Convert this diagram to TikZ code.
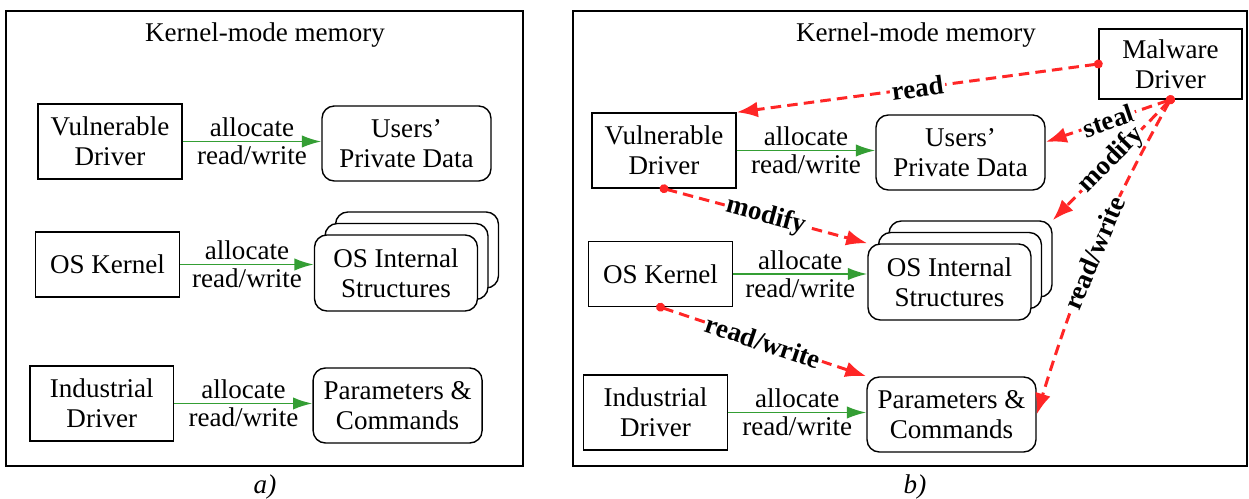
\documentclass[tikz,border=0pt]{standalone}
\usepackage{fontspec}
\setmainfont{Liberation Serif}
\usetikzlibrary{arrows.meta}

\definecolor{allocgreen}{RGB}{52,158,52}
\definecolor{attackred}{RGB}{255,38,38}

\begin{document}
\begin{tikzpicture}[x=0.02cm,y=-0.02cm,
                    font=\fontsize{15.4}{17}\selectfont,
                    driver/.style={draw,line width=0.8pt,align=center,inner sep=0pt,minimum width=2.88cm,minimum height=1.5cm},
                    memory/.style={draw,line width=0.8pt,rounded corners=7pt,align=center,inner sep=0pt,minimum width=3.38cm,minimum height=1.5cm},
                    stacked/.style={memory,fill=white,minimum width=3.26cm,minimum height=1.52cm},
                    access arrow/.style={-{Latex[length=11pt,width=7pt]},draw=allocgreen,line width=1.1pt},
                    attack arrow/.style={{Circle[length=5pt]}-{Latex[length=12pt,width=9pt]},draw=attackred,line width=1.7pt,dash pattern=on 6pt off 3.5pt,shorten <=-2.5pt},
                    attack/.style={font=\fontsize{15.4}{17}\selectfont\bfseries,text=black,sloped,fill=white,inner sep=1pt,midway},
                   ]
  \useasboundingbox (0,0) rectangle (1249,499);

  % a) normal use of kernel-mode memory
  \draw[line width=0.8pt] (6,11) rectangle (523,466);
  \node (titlea) at (265,35) {Kernel-mode memory};
  \node (captiona) at (265,487) {\textit{a)}};

  \node[driver] (vulna) at (110,141.5) {Vulnerable\\Driver};
  \node[memory] (usersa) at (406.5,143.5) {Users’\\Private Data};
  \node[driver,minimum height=1.3cm] (kernela) at (107.5,264.5) {OS Kernel};
  \node[stacked] (osia3) at (417,250) {};
  \node[stacked] (osia2) at (406.5,261.5) {};
  \node[stacked] (osia) at (396,273) {OS Internal\\Structures};
  \node[driver] (inda) at (101.8,403.5) {Industrial\\Driver};
  \node[memory] (paramsa) at (397.6,405.5) {Parameters \&\\Commands};

  \draw[access arrow] (vulna.east) -- (vulna.east -| usersa.west)
    node[midway,above,inner sep=2pt] {allocate} node[midway,below,inner sep=2pt] {read/write};
  \draw[access arrow] (kernela.east) -- (kernela.east -| osia.west)
    node[midway,above,inner sep=2pt] {allocate} node[midway,below,inner sep=2pt] {read/write};
  \draw[access arrow] (inda.east) -- (inda.east -| paramsa.west)
    node[midway,above,inner sep=2pt] {allocate} node[midway,below,inner sep=2pt] {read/write};

  % b) the same memory with a malware driver
  \draw[line width=0.8pt] (573,11) rectangle (1247,466);
  \node (titleb) at (916,35) {Kernel-mode memory};
  \node (captionb) at (915,487) {\textit{b)}};

  \node[driver,minimum width=2.86cm,minimum height=1.4cm] (malware) at (1170.5,64) {Malware\\Driver};
  \node[driver] (vulnb) at (664,150.5) {Vulnerable\\Driver};
  \node[memory] (usersb) at (960.5,152.5) {Users’\\Private Data};
  \node[driver,minimum height=1.3cm] (kernelb) at (660.5,274) {OS Kernel};
  \node[stacked] (osib3) at (970.5,259) {};
  \node[stacked] (osib2) at (960,270.5) {};
  \node[stacked] (osib) at (949.5,282) {OS Internal\\Structures};
  \node[driver] (indb) at (655.5,412.5) {Industrial\\Driver};
  \node[memory] (paramsb) at (951.5,414.5) {Parameters \&\\Commands};

  \draw[access arrow] (vulnb.east) -- (vulnb.east -| usersb.west)
    node[midway,above,inner sep=2pt] {allocate} node[midway,below,inner sep=2pt] {read/write};
  \draw[access arrow] (kernelb.east) -- (kernelb.east -| osib.west)
    node[midway,above,inner sep=2pt] {allocate} node[midway,below,inner sep=2pt] {read/write};
  \draw[access arrow] (indb.east) -- (indb.east -| paramsb.west)
    node[midway,above,inner sep=2pt] {allocate} node[midway,below,inner sep=2pt] {read/write};

  \draw[attack arrow] (malware.west) -- node[attack] {read} (vulnb.north east);
  \draw[attack arrow] (malware.south) -- node[attack] {steal} (usersb.7);
  \draw[attack arrow] (malware.south) -- node[attack] {modify} (osib3.north east);
  \draw[attack arrow] (malware.south) to[bend right=6] node[attack] {read/write} (paramsb.east);
  \draw[attack arrow] (vulnb.south) -- node[attack] {modify} (osib.north west);
  \draw[attack arrow] (kernelb.south) -- node[attack] {read/write} (paramsb.north west);
\end{tikzpicture}
\end{document}
